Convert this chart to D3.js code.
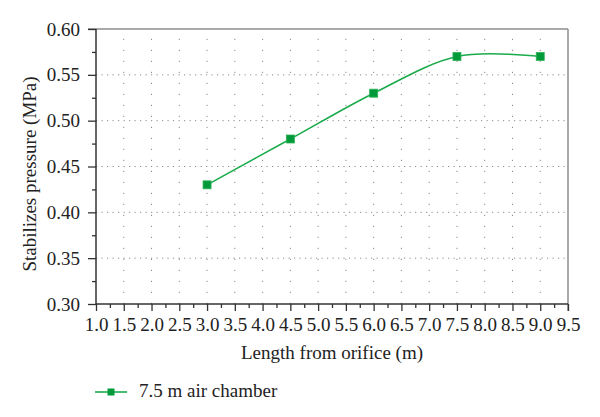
<!DOCTYPE html>
<html>
<head>
<meta charset="utf-8">
<script src="https://cdn.jsdelivr.net/npm/d3@7"></script>
<style>
  html, body { margin: 0; padding: 0; background: #fff; }
  svg { display: block; }
</style>
</head>
<body>
<svg id="chart" width="600" height="417"></svg>
<script>
const xValues = [3.0, 4.5, 6.0, 7.5, 9.0];
const yValues = [0.43, 0.48, 0.53, 0.57, 0.57];
const seriesName = "7.5 m air chamber";
const xTicks = [1.0,1.5,2.0,2.5,3.0,3.5,4.0,4.5,5.0,5.5,6.0,6.5,7.0,7.5,8.0,8.5,9.0,9.5];
const yTicks = [0.30,0.35,0.40,0.45,0.50,0.55,0.60];
const xTitle = "Length from orifice (m)";
const yTitle = "Stabilizes pressure (MPa)";
const FONT = "'Liberation Serif', 'Times New Roman', Times, serif";

const svg = d3.select("#chart");
const m = {left: 96, top: 29, right: 568, bottom: 304};
const x = d3.scaleLinear().domain([1.0, 9.5]).range([m.left, m.right]);
const y = d3.scaleLinear().domain([0.30, 0.60]).range([m.bottom, m.top]);

// grid
const grid = svg.append("g");
grid.selectAll("line.v").data(xTicks.slice(1, -1)).join("line")
  .attr("x1", d => x(d)).attr("x2", d => x(d))
  .attr("y1", m.bottom).attr("y2", m.top)
  .attr("stroke", "#8a8a8a").attr("stroke-width", 1)
  .attr("stroke-dasharray", "1.2,9.8");
grid.selectAll("line.h").data(yTicks.slice(1, -1)).join("line")
  .attr("x1", m.left).attr("x2", m.right)
  .attr("y1", d => y(d)).attr("y2", d => y(d))
  .attr("stroke", "#8a8a8a").attr("stroke-width", 1)
  .attr("stroke-dasharray", "1.2,4.3");

// frame top/right
svg.append("line").attr("x1", m.left - 8).attr("x2", m.right).attr("y1", m.top).attr("y2", m.top)
  .attr("stroke", "#8c8c8c").attr("stroke-width", 1.5);
svg.append("line").attr("x1", m.right).attr("x2", m.right).attr("y1", m.top).attr("y2", m.bottom + 7)
  .attr("stroke", "#8c8c8c").attr("stroke-width", 1.5);

// minor ticks
const xMinor = d3.range(1.25, 9.5, 0.5);
const yMinor = d3.range(0.325, 0.6, 0.05);

const xAxis = svg.append("g").attr("transform", `translate(0,${m.bottom})`)
  .call(d3.axisBottom(x).tickValues(xTicks).tickFormat(d3.format(".1f")).tickSize(7).tickPadding(7));
svg.append("g").attr("transform", `translate(0,${m.bottom})`)
  .call(d3.axisBottom(x).tickValues(xMinor).tickFormat("").tickSize(4))
  .call(g => g.select(".domain").remove());
const yAxis = svg.append("g").attr("transform", `translate(${m.left},0)`)
  .call(d3.axisLeft(y).tickValues(yTicks).tickFormat(d3.format(".2f")).tickSize(8).tickPadding(8));
svg.append("g").attr("transform", `translate(${m.left},0)`)
  .call(d3.axisLeft(y).tickValues(yMinor).tickFormat("").tickSize(4))
  .call(g => g.select(".domain").remove());

svg.selectAll(".domain").attr("stroke", "#333").attr("stroke-width", 1.5);
svg.selectAll(".tick line").attr("stroke", "#333").attr("stroke-width", 1.3);
svg.selectAll("g").attr("font-family", FONT).attr("font-size", 19);
svg.selectAll(".tick text").style("font-family", FONT).style("font-size", "19px").attr("fill", "#222");
xAxis.select(".domain").attr("d", `M${m.left},0H${m.right}`);
yAxis.select(".domain").attr("d", `M0,${m.bottom}V${m.top}`);

// titles
svg.append("text").attr("x", (m.left + m.right) / 2).attr("y", 359)
  .attr("text-anchor", "middle").style("font-family", FONT).style("font-size", "19px")
  .attr("fill", "#222").text(xTitle);
svg.append("text").attr("transform", `translate(36,${174}) rotate(-90)`)
  .attr("text-anchor", "middle").style("font-family", FONT).style("font-size", "19px")
  .attr("fill", "#222").text(yTitle);

// series
const pts = xValues.map((v, i) => [v, yValues[i]]);
const line = d3.line().x(d => x(d[0])).y(d => y(d[1])).curve(d3.curveCardinal.tension(0));
svg.append("path").attr("d", line(pts)).attr("fill", "none")
  .attr("stroke", "#1aab4b").attr("stroke-width", 1.6);
svg.selectAll("rect.mk").data(pts).join("rect")
  .attr("x", d => x(d[0]) - 4).attr("y", d => y(d[1]) - 4)
  .attr("width", 8).attr("height", 8)
  .attr("fill", "#009a3a").attr("stroke", "#2fb357").attr("stroke-width", 0.8);

// legend
const lg = svg.append("g");
lg.append("line").attr("x1", 95).attr("x2", 127).attr("y1", 392).attr("y2", 392)
  .attr("stroke", "#1aab4b").attr("stroke-width", 1.6);
lg.append("rect").attr("x", 107.5).attr("y", 388.5).attr("width", 7).attr("height", 7)
  .attr("fill", "#009a3a");
lg.append("text").attr("x", 139).attr("y", 397).style("font-family", FONT).style("font-size", "19px")
  .attr("fill", "#222").text(seriesName);
</script>
</body>
</html>
